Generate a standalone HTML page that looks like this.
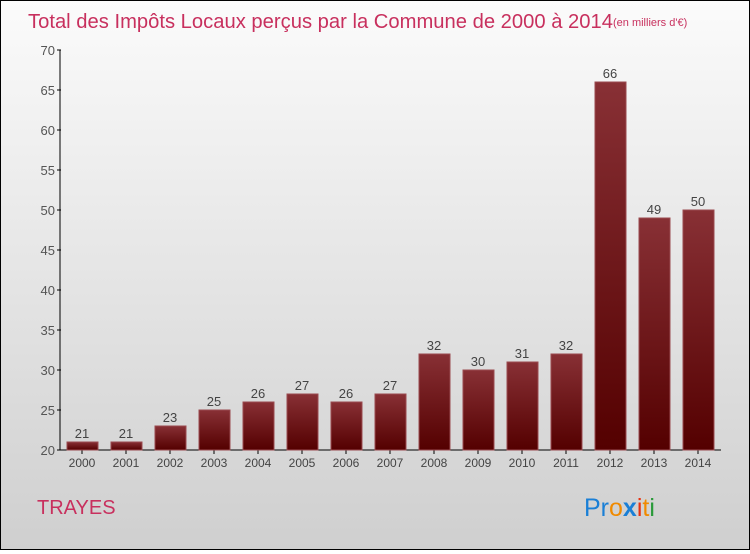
<!DOCTYPE html>
<html><head><meta charset="utf-8"><style>
body{margin:0;width:750px;height:550px;overflow:hidden;font-family:"Liberation Sans",sans-serif}
#frame{position:absolute;left:0;top:0;width:748px;height:548px;border:1px solid #000;background:linear-gradient(#fbfbfb,#cfcfcf)}
</style></head><body>
<div id="frame">
<svg id="chart" width="748" height="548">
<defs><linearGradient id="bg" x1="0" y1="0" x2="0" y2="1"><stop offset="0" stop-color="#883035"/><stop offset="1" stop-color="#540000"/></linearGradient></defs>
<text x="27" y="27" font-size="20" fill="#c8305e" textLength="585" lengthAdjust="spacingAndGlyphs">Total des Impôts Locaux perçus par la Commune de 2000 à 2014</text>
<text x="612" y="25" font-size="11" fill="#c8305e">(en milliers d'€)</text>
<text x="36" y="513" font-size="20" fill="#c8305e">TRAYES</text>
<text x="583" y="515" font-size="25"><tspan fill="#1a7fd6">Pr</tspan><tspan fill="#f08a00">o</tspan><tspan fill="#1a7fd6" font-weight="bold">x</tspan><tspan fill="#e83010">i</tspan><tspan fill="#f08a00">t</tspan><tspan fill="#2a9a3a">i</tspan></text>
<g id="axes"></g><g id="bars"></g>
</svg></div>
<script>
const categories=["2000","2001","2002","2003","2004","2005","2006","2007","2008","2009","2010","2011","2012","2013","2014"];
const values=[21,21,23,25,26,27,26,27,32,30,31,32,66,49,50];
const yTicks=[20,25,30,35,40,45,50,55,60,65,70];
const NS="http://www.w3.org/2000/svg";
const y=v=>449-(v-20)*8;
const x=i=>81+i*44;
function mk(t,a,p){const e=document.createElementNS(NS,t);for(const k in a)e.setAttribute(k,a[k]);p.appendChild(e);return e;}
const ax=document.getElementById('axes'),bg=document.getElementById('bars');
const yl=mk('line',{x1:59,y1:y(70),x2:59,y2:y(20),stroke:'#000','stroke-width':1},ax);


const xl=mk('line',{x1:59,y1:y(20),x2:720,y2:y(20),stroke:'#000','stroke-width':1},ax);


yTicks.forEach(t=>{
 mk('line',{x1:56,x2:60,y1:y(t),y2:y(t),stroke:'#000'},ax);
 const tx=mk('text',{x:54,y:y(t)+5,'font-size':13,fill:'#555','text-anchor':'end'},ax);tx.textContent=t;
 
 
});
categories.forEach((c,i)=>{
 const v=values[i];
 const r=mk('rect',{x:x(i)-15,y:y(v),width:31,height:y(20)-y(v),fill:'url(#bg)',stroke:'#9a4a4f','stroke-width':1},bg);
 
 
 const lv=mk('text',{x:x(i),y:y(v)-4,'font-size':13,fill:'#444','text-anchor':'middle'},bg);lv.textContent=v;
 
 
 mk('line',{x1:x(i),x2:x(i),y1:y(20),y2:y(20)+4,stroke:'#000'},ax);
 const cl=mk('text',{x:x(i),y:466,'font-size':12,fill:'#444','text-anchor':'middle'},ax);cl.textContent=c;
 
 
});
</script>
</body></html>
